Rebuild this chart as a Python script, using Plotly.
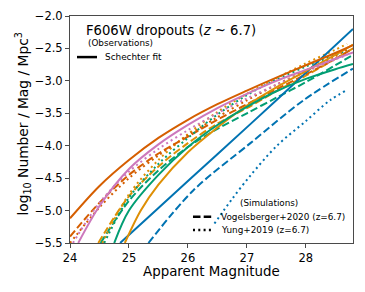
import plotly.graph_objects as go

# ---- data (apparent magnitude, log10 number density) ----
colors = {"blue": "#0173B2", "orange": "#DE8F05", "green": "#029E73",
          "vermilion": "#D55E00", "pink": "#CC78BC"}

# Schechter fits (solid)
fit_blue_x = [24.85, 25.5, 26.5, 27.5, 28.8]
fit_blue_y = [-5.5, -4.96, -4.13, -3.30, -2.2]
fit_orange_x = [24.93, 25.2, 25.5, 26.0, 26.5, 27.0, 27.5, 28.0, 28.5, 28.8]
fit_orange_y = [-5.5, -5.0, -4.6, -4.1, -3.72, -3.38, -3.1, -2.85, -2.6, -2.44]
fit_green_x = [24.75, 25.0, 25.5, 26.0, 26.5, 27.0, 27.5, 28.0, 28.5, 28.8]
fit_green_y = [-5.5, -5.0, -4.45, -4.02, -3.68, -3.4, -3.16, -2.97, -2.82, -2.74]
fit_verm_x = [24.0, 24.5, 25.0, 25.5, 26.0, 26.5, 27.0, 27.5, 28.0, 28.5, 28.8]
fit_verm_y = [-5.12, -4.62, -4.22, -3.88, -3.6, -3.36, -3.15, -2.95, -2.76, -2.57, -2.45]
fit_pink_x = [24.14, 24.5, 25.0, 25.5, 26.0, 26.5, 27.0, 27.5, 28.0, 28.5, 28.8]
fit_pink_y = [-5.5, -4.93, -4.36, -3.98, -3.68, -3.42, -3.2, -3.0, -2.83, -2.66, -2.56]

# Vogelsberger+2020 (dashed)
vog_blue_x = [25.33, 26.09, 27.06, 27.96, 28.8]
vog_blue_y = [-5.5, -4.69, -3.96, -3.30, -2.81]
vog_orange_x = [24.48, 25.0, 25.5, 26.0, 26.5, 27.0, 27.5, 28.0, 28.5, 28.8]
vog_orange_y = [-5.5, -4.78, -4.32, -3.96, -3.66, -3.42, -3.16, -2.92, -2.66, -2.5]
vog_green_x = [24.52, 25.0, 25.5, 26.0, 26.5, 27.0, 27.5, 28.0, 28.5, 28.8]
vog_green_y = [-5.5, -4.85, -4.38, -4.02, -3.74, -3.5, -3.26, -3.02, -2.76, -2.6]
vog_verm_x = [24.0, 24.5, 25.0, 25.5, 26.0, 26.5, 27.0, 27.5, 28.0, 28.5, 28.8]
vog_verm_y = [-5.4, -4.88, -4.45, -4.12, -3.86, -3.6, -3.36, -3.13, -2.9, -2.66, -2.5]

# Yung+2019 (dotted)
yung_blue_x = [26.45, 26.75, 27.06, 27.51, 28.0, 28.41, 28.7]
yung_blue_y = [-5.2, -4.82, -4.46, -4.0, -3.62, -3.3, -3.14]
yung_orange_x = [24.55, 25.0, 25.5, 26.0, 26.5, 27.0, 27.5, 28.0, 28.5, 28.7]
yung_orange_y = [-5.5, -4.75, -4.22, -3.82, -3.48, -3.2, -2.96, -2.73, -2.52, -2.43]
yung_green_x = [24.58, 25.0, 25.5, 26.0, 26.5, 27.0, 27.5, 28.0, 28.5, 28.7]
yung_green_y = [-5.5, -4.8, -4.28, -3.88, -3.52, -3.22, -2.98, -2.78, -2.6, -2.53]
yung_verm_x = [24.0, 24.5, 25.0, 25.5, 26.0, 26.5, 27.0, 27.5, 28.0, 28.5, 28.7]
yung_verm_y = [-5.5, -4.95, -4.5, -4.15, -3.84, -3.56, -3.3, -3.06, -2.84, -2.62, -2.52]
yung_pink_x = [24.05, 24.5, 25.0, 25.5, 26.0, 26.5, 27.0, 27.5, 28.0, 28.5, 28.7]
yung_pink_y = [-5.5, -4.88, -4.4, -4.05, -3.76, -3.5, -3.27, -3.06, -2.86, -2.67, -2.6]

x_ticks = [24, 25, 26, 27, 28]
y_ticks = [-5.5, -5.0, -4.5, -4.0, -3.5, -3.0, -2.5, -2.0]

FONT = "DejaVu Sans"
AX = "#4a4a4a"
DASH = "7.5px,3.2px"
DOT = "2px,3.3px"

series = [
    (vog_blue_x, vog_blue_y, "blue", DASH),
    (vog_orange_x, vog_orange_y, "orange", DASH),
    (vog_green_x, vog_green_y, "green", DASH),
    (vog_verm_x, vog_verm_y, "vermilion", DASH),
    (yung_blue_x, yung_blue_y, "blue", DOT),
    (yung_orange_x, yung_orange_y, "orange", DOT),
    (yung_green_x, yung_green_y, "green", DOT),
    (yung_verm_x, yung_verm_y, "vermilion", DOT),
    (yung_pink_x, yung_pink_y, "pink", DOT),
    (fit_blue_x, fit_blue_y, "blue", "solid"),
    (fit_orange_x, fit_orange_y, "orange", "solid"),
    (fit_green_x, fit_green_y, "green", "solid"),
    (fit_verm_x, fit_verm_y, "vermilion", "solid"),
    (fit_pink_x, fit_pink_y, "pink", "solid"),
]

fig = go.Figure()
for xs, ys, c, dash in series:
    fig.add_trace(go.Scatter(
        x=xs, y=ys, mode="lines", showlegend=False, hoverinfo="skip",
        line=dict(color=colors[c], width=2, dash=dash, shape="spline", smoothing=0.9),
    ))

fig.update_layout(
    width=365, height=292, autosize=False,
    margin=dict(l=70, r=12, t=16, b=49, pad=0),
    paper_bgcolor="white", plot_bgcolor="white",
    font=dict(family=FONT, size=11.5, color="black"),
    showlegend=False,
    xaxis=dict(
        range=[24, 28.8], tickvals=x_ticks, ticktext=[str(v) for v in x_ticks],
        showgrid=False, zeroline=False, showline=True, linecolor=AX, linewidth=1, mirror=True,
        ticks="outside", ticklen=4, tickwidth=1, tickcolor=AX, automargin=False,
        tickfont=dict(size=11.5, family=FONT),
    ),
    yaxis=dict(
        range=[-5.5, -2.0], tickvals=y_ticks, tickformat=".1f",
        showgrid=False, zeroline=False, showline=True, linecolor=AX, linewidth=1, mirror=True,
        ticks="outside", ticklen=4, tickwidth=1, tickcolor=AX, automargin=False,
        tickfont=dict(size=11.5, family=FONT),
    ),
)

# axis titles, chart title and legend-like texts (paper coordinates)
ann = [
    dict(text="Apparent Magnitude", x=0.5, y=-0.126, xanchor="center", yanchor="middle",
         font=dict(size=13.4)),
    dict(text="log<sub>10</sub> Number / Mag / Mpc<sup>3</sup>", x=-0.166, y=0.526,
         xanchor="center", yanchor="middle", textangle=-90, font=dict(size=13.8)),
    dict(text="F606W dropouts (<i>z</i> ~ 6.7)", x=0.049, y=0.938, xanchor="left",
         yanchor="middle", font=dict(size=13.2)),
    dict(text="(Observations)", x=0.1767, y=0.881, xanchor="center", yanchor="middle",
         font=dict(size=8.8)),
    dict(text="Schechter fit", x=0.1166, y=0.819, xanchor="left", yanchor="middle",
         font=dict(size=8.9)),
    dict(text="(Simulations)", x=0.703, y=0.176, xanchor="center", yanchor="middle",
         font=dict(size=8.8)),
    dict(text="Vogelsberger+2020 (z=6.7)", x=0.5265, y=0.116, xanchor="left",
         yanchor="middle", font=dict(size=8.9)),
    dict(text="Yung+2019 (z=6.7)", x=0.5265, y=0.0573, xanchor="left",
         yanchor="middle", font=dict(size=8.9)),
]
for a in ann:
    a.update(xref="paper", yref="paper", showarrow=False)
    a["font"].update(family=FONT, color="black")
fig.update_layout(annotations=ann)

fig.add_shape(type="line", xref="paper", yref="paper", x0=0.0247, x1=0.0954,
              y0=0.819, y1=0.819, line=dict(color="black", width=2.5))
fig.add_shape(type="line", xref="paper", yref="paper", x0=0.4346, x1=0.5053,
              y0=0.116, y1=0.116, line=dict(color="black", width=2.5, dash=DASH))
fig.add_shape(type="line", xref="paper", yref="paper", x0=0.4346, x1=0.5053,
              y0=0.0573, y1=0.0573, line=dict(color="black", width=2.5, dash=DOT))

fig.write_html("out.html", config={"displayModeBar": False, "staticPlot": True},
               post_script="document.body.style.margin='0px';")
